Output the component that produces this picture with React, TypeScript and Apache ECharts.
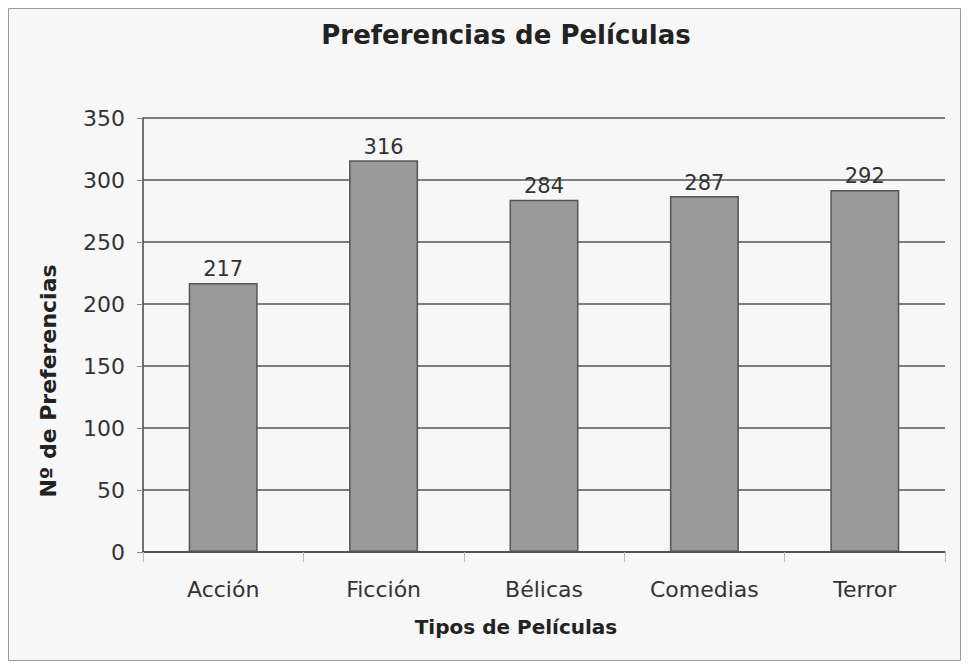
import React, { useEffect, useRef } from "react";
import * as echarts from "echarts";

const categories = ["Acción", "Ficción", "Bélicas", "Comedias", "Terror"];
const values = [217, 316, 284, 287, 292];
const yTicks = [0, 50, 100, 150, 200, 250, 300, 350];

const FONT = "DejaVu Sans";

export default function App() {
  const ref = useRef<HTMLDivElement>(null);
  useEffect(() => {
    const chart = echarts.init(ref.current!, null, { renderer: "svg" });
    chart.setOption({
      animation: false,
      backgroundColor: "#f7f7f7",
      title: {
        text: "Preferencias de Películas",
        left: 493,
        textAlign: "center",
        top: 9,
        textStyle: { fontFamily: FONT, fontSize: 26, fontWeight: "bold", color: "#222" },
      },
      graphic: [
        {
          type: "rect",
          shape: { x: 0.5, y: 0.5, width: 952, height: 652 },
          style: { fill: "none", stroke: "#999", lineWidth: 1 },
          silent: true,
        },
        {
          type: "text",
          x: 40,
          y: 373,
          rotation: Math.PI / 2,
          style: {
            text: "Nº de Preferencias",
            fontFamily: FONT,
            fontSize: 22,
            fontWeight: "bold",
            fill: "#222",
            align: "center",
            verticalAlign: "middle",
          },
          silent: true,
        },
        {
          type: "text",
          x: 508,
          y: 619,
          style: {
            text: "Tipos de Películas",
            fontFamily: FONT,
            fontSize: 20,
            fontWeight: "bold",
            fill: "#222",
            align: "center",
            verticalAlign: "middle",
          },
          silent: true,
        },
      ],
      grid: { left: 135, right: 16, top: 110, bottom: 109 },
      xAxis: {
        type: "category",
        data: categories,
        axisLine: { lineStyle: { color: "#444", width: 1.5 } },
        axisTick: { show: true, alignWithLabel: false, length: 10, lineStyle: { color: "#bbb" } },
        axisLabel: { fontFamily: FONT, fontSize: 22, color: "#333", margin: 26 },
      },
      yAxis: {
        type: "value",
        min: yTicks[0],
        max: yTicks[yTicks.length - 1],
        interval: 50,
        axisLine: { show: true, lineStyle: { color: "#444", width: 1.5 } },
        axisTick: { show: true, length: 6, lineStyle: { color: "#888" } },
        axisLabel: { fontFamily: FONT, fontSize: 22, color: "#333", margin: 18 },
        splitLine: { lineStyle: { color: "#555", width: 1.5 } },
      },
      series: [
        {
          type: "bar",
          data: values,
          barWidth: "43%",
          itemStyle: { color: "#9a9a9a", borderColor: "#555", borderWidth: 1.5 },
          label: {
            show: true,
            position: "top",
            distance: 3,
            fontFamily: FONT,
            fontSize: 21,
            color: "#333",
          },
        },
      ],
    });
    return () => chart.dispose();
  }, []);
  return <div ref={ref} style={{ width: 953, height: 653 }} />;
}
